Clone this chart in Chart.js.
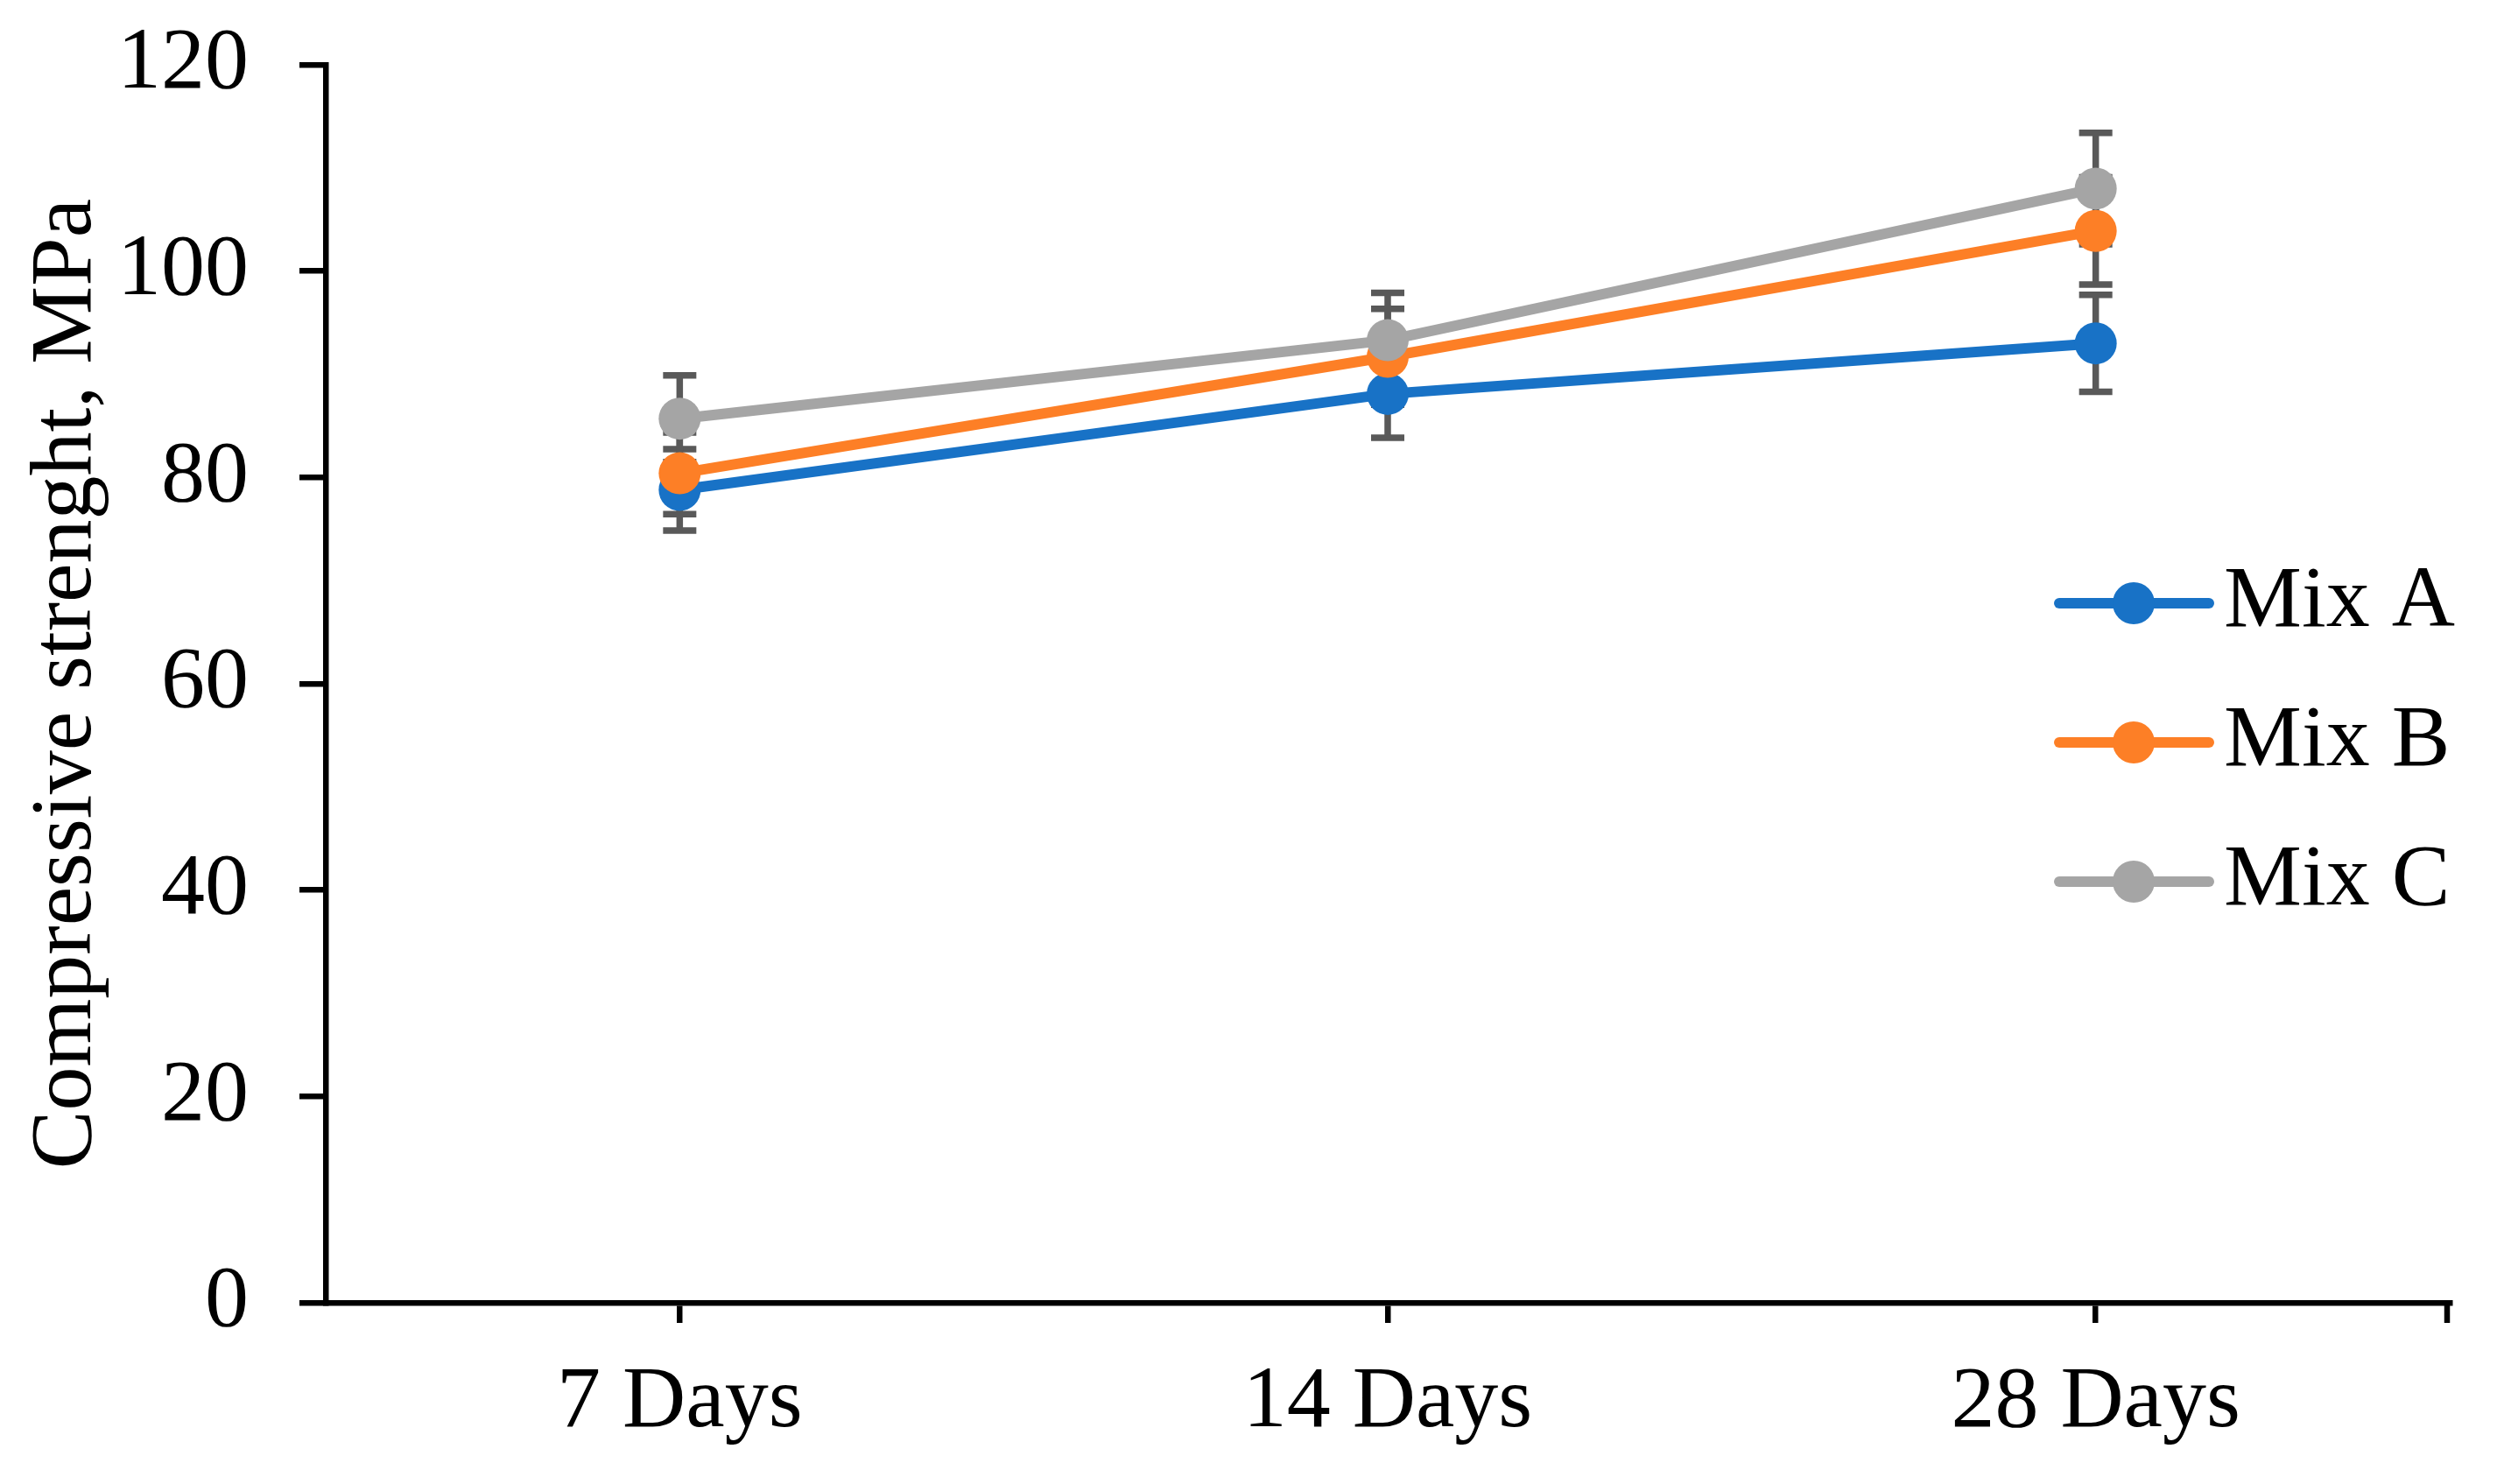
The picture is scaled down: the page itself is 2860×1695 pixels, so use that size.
<!DOCTYPE html>
<html>
<head>
<meta charset="utf-8">
<title>Compressive strength</title>
<script src="https://cdn.jsdelivr.net/npm/chart.js@4.4.0/dist/chart.umd.min.js"></script>
<style>
  html, body { margin: 0; padding: 0; background: #ffffff; }
  #wrap { width: 2860px; height: 1695px; }
</style>
</head>
<body>
<div id="wrap"><canvas id="strengthChart" width="2860" height="1695"></canvas></div>
<script>
// Categories on the x axis
var ages = ["7 Days", "14 Days", "28 Days"];
// Names of the mixes
var seriesNames = ["Mix A", "Mix B", "Mix C"];
// Mean compressive strength per mix (MPa)
var mixA = [78.8, 88.1, 93.0];
var mixB = [80.4, 91.7, 103.9];
var mixC = [85.7, 93.3, 108.0];
// Error bar size (+/-) per mix
var errA = [3.95, 4.25, 4.7];
var errB = [3.95, 4.65, 5.2];
var errC = [4.2, 4.6, 5.4];
// Tick labels of the y axis
var yTicks = [0, 20, 40, 60, 80, 100, 120];

var serif = "'Times New Roman', 'Liberation Serif', serif";
var blue = "rgb(24, 114, 198)";
var orange = "rgb(253, 127, 38)";
var grey = "rgb(165, 165, 165)";
var errColor = "rgb(89, 89, 89)";

// Draws the error bars behind the lines and markers
var errorBarPlugin = {
    id: "errorBars",
    beforeDatasetsDraw: function (chart) {
        var ctx = chart.ctx;
        var yScale = chart.scales.y;
        ctx.save();
        ctx.strokeStyle = errColor;
        ctx.lineWidth = 7.5;
        chart.data.datasets.forEach(function (ds, i) {
            var meta = chart.getDatasetMeta(i);
            ds.data.forEach(function (v, j) {
                var x = meta.data[j].x;
                var top = yScale.getPixelForValue(v + ds.errors[j]);
                var bottom = yScale.getPixelForValue(v - ds.errors[j]);
                ctx.beginPath();
                ctx.moveTo(x, top);
                ctx.lineTo(x, bottom);
                ctx.moveTo(x - 19, top);
                ctx.lineTo(x + 19, top);
                ctx.moveTo(x - 19, bottom);
                ctx.lineTo(x + 19, bottom);
                ctx.stroke();
            });
        });
        ctx.restore();
    }
};

// Legend inside the plot on the right, line with a marker like Excel
var sideLegendPlugin = {
    id: "sideLegend",
    afterDraw: function (chart) {
        var ctx = chart.ctx;
        var area = chart.chartArea;
        ctx.save();
        // extra tick at the right end of the x axis
        ctx.strokeStyle = "#000";
        ctx.lineWidth = 6.5;
        ctx.beginPath();
        ctx.moveTo(area.right - 3, area.bottom);
        ctx.lineTo(area.right - 3, area.bottom + 23);
        ctx.stroke();

        chart.data.datasets.forEach(function (ds, i) {
            var y = 689 + i * 159;
            ctx.strokeStyle = ds.borderColor;
            ctx.lineWidth = 12;
            ctx.lineCap = "round";
            ctx.beginPath();
            ctx.moveTo(2352, y);
            ctx.lineTo(2523, y);
            ctx.stroke();
            ctx.fillStyle = ds.borderColor;
            ctx.beginPath();
            ctx.arc(2437, y, 24, 0, Math.PI * 2);
            ctx.fill();
            ctx.fillStyle = "#000";
            ctx.font = "100px " + serif;
            ctx.textBaseline = "middle";
            ctx.textAlign = "left";
            ctx.fillText(ds.label, 2540, y);
        });
        ctx.restore();
    }
};

function makeSet(name, values, errors, color, order) {
    return {
        label: name,
        data: values,
        errors: errors,
        borderColor: color,
        backgroundColor: color,
        borderWidth: 12,
        tension: 0,
        pointRadius: 24,
        pointHoverRadius: 24,
        pointBorderWidth: 0,
        pointBackgroundColor: color,
        order: order,
        clip: false
    };
}

window.onload = function () {
    var ctx = document.getElementById("strengthChart").getContext("2d");
    var myChart = new Chart(ctx, {
        type: "line",
        data: {
            labels: ages,
            datasets: [
                makeSet(seriesNames[0], mixA, errA, blue, 3),
                makeSet(seriesNames[1], mixB, errB, orange, 2),
                makeSet(seriesNames[2], mixC, errC, grey, 1)
            ]
        },
        plugins: [errorBarPlugin, sideLegendPlugin],
        options: {
            responsive: false,
            devicePixelRatio: 1,
            animation: false,
            layout: { padding: { left: 0, top: 74, right: 62, bottom: 0 } },
            plugins: {
                legend: { display: false },
                tooltip: { enabled: false }
            },
            scales: {
                x: {
                    offset: true,
                    grid: { offset: false, drawOnChartArea: false, tickLength: 23, lineWidth: 6.5, color: "#000" },
                    border: { display: true, color: "#000", width: 6.5 },
                    ticks: { color: "#000", font: { family: serif, size: 100 }, padding: 32, maxRotation: 0, autoSkip: false },
                    afterFit: function (axis) {
                        axis.height = 207;
                        axis.paddingLeft = 0;
                        axis.paddingRight = 0;
                    }
                },
                y: {
                    min: yTicks[0],
                    max: yTicks[yTicks.length - 1],
                    afterBuildTicks: function (axis) {
                        axis.ticks = yTicks.map(function (v) { return { value: v }; });
                    },
                    grid: { drawOnChartArea: false, tickLength: 30, lineWidth: 6.5, color: "#000" },
                    border: { display: true, color: "#000", width: 6.5 },
                    ticks: { color: "#000", font: { family: serif, size: 100 }, padding: 58 },
                    title: {
                        display: true,
                        text: "Compressive strenght, MPa",
                        color: "#000",
                        font: { family: serif, size: 100 },
                        padding: { top: 17, bottom: 0 }
                    },
                    afterFit: function (axis) {
                        axis.width = 372;
                        axis.paddingTop = 0;
                        axis.paddingBottom = 0;
                    }
                }
            }
        }
    });
};
</script>
</body>
</html>
